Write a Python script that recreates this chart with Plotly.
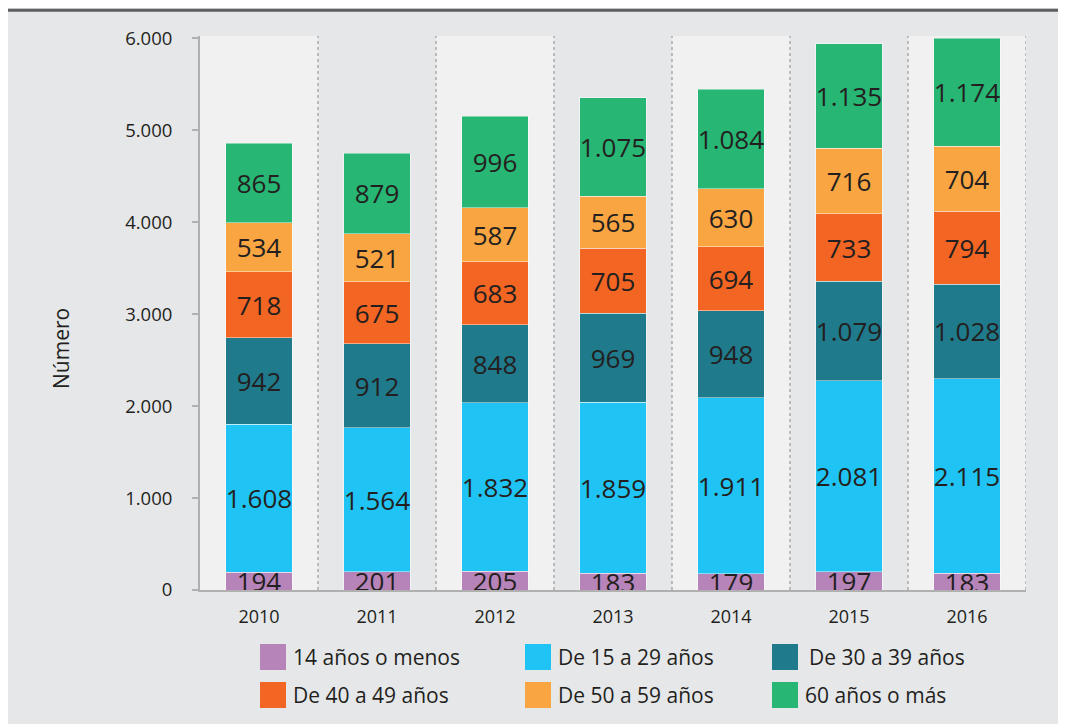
import plotly.graph_objects as go

years = ["2010", "2011", "2012", "2013", "2014", "2015", "2016"]
series_names = ["14 años o menos", "De 15 a 29 años", "De 30 a 39 años",
                "De 40 a 49 años", "De 50 a 59 años", "60 años o más"]
colors = ["#b784ba", "#20c4f4", "#1f7a8c", "#f26522", "#f9a541", "#27b673"]

v_14 = [194, 201, 205, 183, 179, 197, 183]
v_15_29 = [1608, 1564, 1832, 1859, 1911, 2081, 2115]
v_30_39 = [942, 912, 848, 969, 948, 1079, 1028]
v_40_49 = [718, 675, 683, 705, 694, 733, 794]
v_50_59 = [534, 521, 587, 565, 630, 716, 704]
v_60 = [865, 879, 996, 1075, 1084, 1135, 1174]
series_values = [v_14, v_15_29, v_30_39, v_40_49, v_50_59, v_60]

y_ticks = [0, 1000, 2000, 3000, 4000, 5000, 6000]

FONT = "Open Sans"
TXT = "#231f20"
BG = "#e6e7e9"
BAND = "#f1f1f1"

# figure size and plot area (figure pixel coords; page adds an 8px body margin)
W, H = 1058, 716
L, R, T, B = 192, 1018, 28, 582


def px_x(p):
    return (p - L) / (R - L)


def px_y(p):
    return (B - p) / (B - T)


def fmt(v):
    return f"{v:,}".replace(",", ".")


fig = go.Figure()
for name, col, vals in zip(series_names, colors, series_values):
    fig.add_trace(go.Bar(
        x=years, y=vals, name=name,
        marker=dict(color=col, line=dict(color="rgba(255,255,255,0.45)", width=1)),
        text=[fmt(v) for v in vals],
        textposition="inside", insidetextanchor="middle", textangle=0,
        constraintext="none",
        textfont=dict(family=FONT, size=26, color=TXT),
        showlegend=False, hoverinfo="skip",
    ))

shapes = []
# alternating category bands
for i in range(len(years)):
    if i % 2 == 0:
        shapes.append(dict(type="rect", xref="x", yref="paper",
                           x0=i - 0.5, x1=i + 0.5, y0=0, y1=1,
                           fillcolor=BAND, line=dict(width=0), layer="below"))
# dotted separators
for i in range(len(years)):
    shapes.append(dict(type="line", xref="x", yref="paper",
                       x0=i + 0.5, x1=i + 0.5, y0=0, y1=1,
                       line=dict(color="#9a9a9a", width=1.2, dash="dot"), layer="below"))
# dark top rule
shapes.append(dict(type="line", xref="paper", yref="paper",
                   x0=px_x(-2), x1=px_x(W + 2), y0=px_y(2.3), y1=px_y(2.3),
                   line=dict(color="#5f6062", width=3), layer="above"))

annotations = []
# custom legend
leg_cols = [252, 517, 764]
leg_text_x = [[283, 548, 799], [283, 548, 795]]
leg_rows = [649, 687]
for k, (name, col) in enumerate(zip(series_names, colors)):
    r, c = divmod(k, 3)
    x0 = leg_cols[c]
    yc = leg_rows[r]
    shapes.append(dict(type="rect", xref="paper", yref="paper",
                       x0=px_x(x0), x1=px_x(x0 + 26), y0=px_y(yc + 13), y1=px_y(yc - 13),
                       fillcolor=col, line=dict(width=0)))
    annotations.append(dict(xref="paper", yref="paper", x=px_x(leg_text_x[r][c]), y=px_y(yc),
                            text=name, showarrow=False, xanchor="left", yanchor="middle",
                            font=dict(family=FONT, size=21, color=TXT)))
# y-axis title
annotations.append(dict(xref="paper", yref="paper", x=px_x(53), y=px_y(341),
                        text="Número", showarrow=False, textangle=-90,
                        xanchor="center", yanchor="middle",
                        font=dict(family=FONT, size=21, color=TXT)))

fig.update_layout(
    width=W, height=H,
    margin=dict(l=L, r=W - R, t=T, b=H - B),
    barmode="stack", bargap=0.44,
    paper_bgcolor=BG, plot_bgcolor=BG,
    font=dict(family=FONT, color=TXT),
    shapes=shapes, annotations=annotations,
    showlegend=False,
    xaxis=dict(type="category", categoryorder="array", categoryarray=years,
               range=[-0.5, len(years) - 0.5],
               showline=True, linecolor="#b0b0b0", linewidth=2,
               ticks="", showgrid=False, zeroline=False,
               tickfont=dict(family=FONT, size=18, color=TXT),
               ticklabelstandoff=9),
    yaxis=dict(range=[0, 6025], tickvals=y_ticks,
               ticktext=[fmt(v) for v in y_ticks],
               showline=True, linecolor="#b0b0b0", linewidth=2,
               ticks="outside", ticklen=6, tickwidth=2, tickcolor="#b0b0b0",
               showgrid=False, zeroline=False,
               tickfont=dict(family=FONT, size=18.5, color=TXT),
               ticklabelstandoff=16),
)

fig.write_html("out.html")
